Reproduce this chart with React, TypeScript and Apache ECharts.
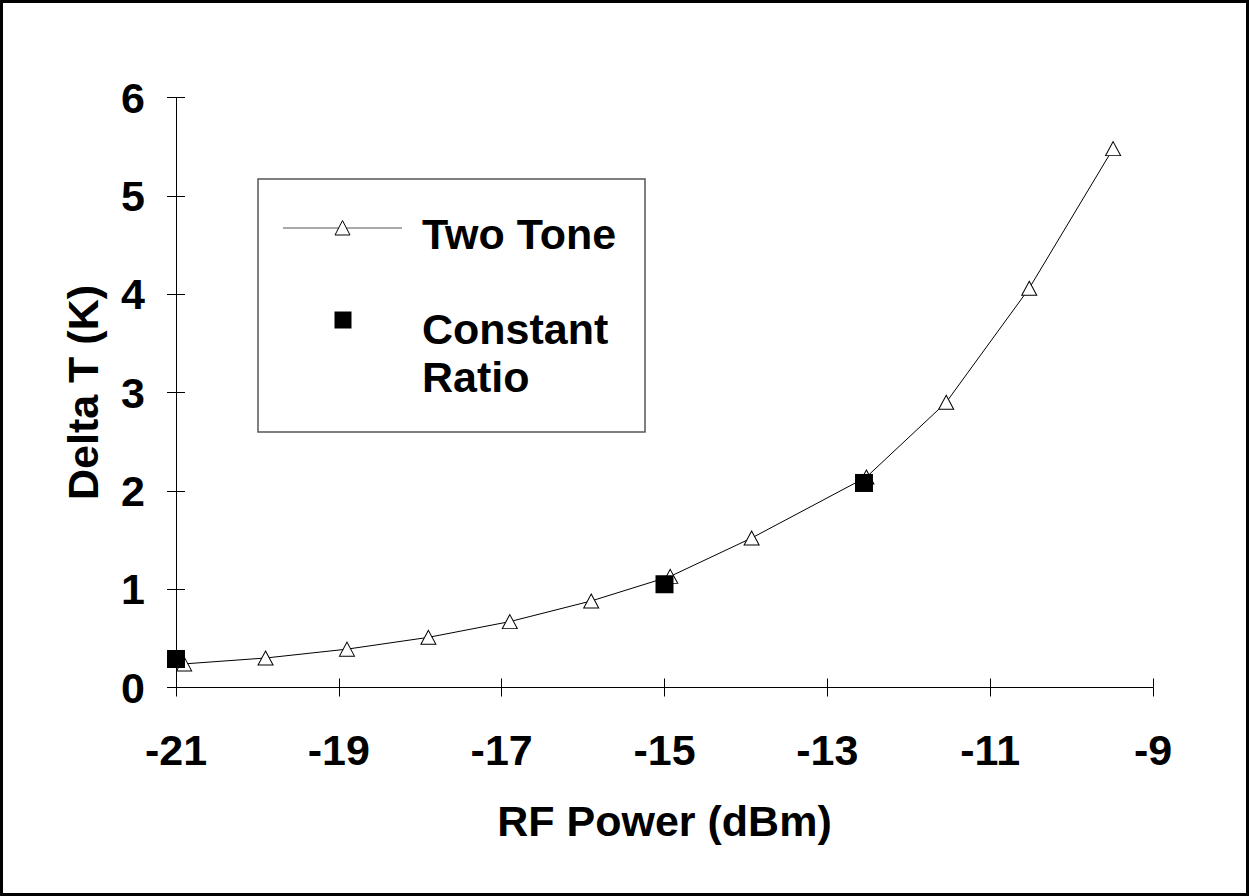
import React, { useEffect, useRef } from "react";
import * as echarts from "echarts";

// ---- data ----
const xTickValues = [-21, -19, -17, -15, -13, -11, -9];
const yTickValues = [0, 1, 2, 3, 4, 5, 6];

const twoToneX = [-20.9, -19.9, -18.9, -17.9, -16.9, -15.9, -14.93, -13.93, -12.52, -11.54, -10.52, -9.49];
const twoToneY = [0.24, 0.3, 0.39, 0.51, 0.67, 0.88, 1.13, 1.52, 2.14, 2.9, 4.06, 5.48];

const constRatioX = [-21.0, -15.0, -12.55];
const constRatioY = [0.29, 1.05, 2.08];

const seriesNames = ["Two Tone", "Constant Ratio"];
const legendLabels = ["Two Tone", "Constant\nRatio"];
const xAxisTitle = "RF Power (dBm)";
const yAxisTitle = "Delta T (K)";

const FONT = '"Liberation Sans", Arial, Helvetica, sans-serif';
const FS = 43;

export default function App() {
  const ref = useRef<HTMLDivElement>(null);

  useEffect(() => {
    document.body.style.margin = "0";
    document.body.style.overflow = "hidden";
    const chart = echarts.init(ref.current!, null, { renderer: "svg" });

    const textStyle = { fontFamily: FONT, fontWeight: "bold" as const, fontSize: FS, color: "#000" };

    const xBase = {
      type: "value" as const,
      min: -21,
      max: -9,
      interval: 2,
      position: "bottom" as const,
      splitLine: { show: false },
    };
    const yBase = {
      type: "value" as const,
      min: 0,
      max: 6,
      interval: 1,
      position: "left" as const,
      splitLine: { show: false },
    };

    const option: any = {
      animation: false,
      backgroundColor: "#fff",
      grid: { left: 176, top: 97.5, width: 977, height: 590, containLabel: false },
      xAxis: [
        {
          ...xBase,
          axisLine: { show: true, onZero: false, lineStyle: { color: "#000", width: 1 } },
          axisTick: { show: true, inside: false, length: 9, lineStyle: { color: "#000", width: 1 }, customValues: xTickValues },
          axisLabel: { ...textStyle, margin: 41, customValues: xTickValues },
          name: xAxisTitle,
          nameLocation: "middle",
          nameGap: 112,
          nameTextStyle: { ...textStyle },
        },
        {
          ...xBase,
          axisLine: { show: false, onZero: false },
          axisTick: { show: true, inside: true, length: 9, lineStyle: { color: "#000", width: 1 }, customValues: xTickValues },
          axisLabel: { show: false },
        },
      ],
      yAxis: [
        {
          ...yBase,
          axisLine: { show: true, onZero: false, lineStyle: { color: "#000", width: 1 } },
          axisTick: { show: true, inside: false, length: 9, lineStyle: { color: "#000", width: 1 }, customValues: yTickValues },
          axisLabel: { ...textStyle, margin: 31, customValues: yTickValues },
          name: yAxisTitle,
          nameLocation: "middle",
          nameRotate: 90,
          nameGap: 72,
          nameTextStyle: { ...textStyle },
        },
        {
          ...yBase,
          axisLine: { show: false, onZero: false },
          axisTick: { show: true, inside: true, length: 9, lineStyle: { color: "#000", width: 1 }, customValues: yTickValues },
          axisLabel: { show: false },
        },
      ],
      series: [
        {
          name: seriesNames[0],
          type: "line",
          xAxisIndex: 0,
          yAxisIndex: 0,
          data: twoToneX.map((x, i) => [x, twoToneY[i]]),
          symbol: "triangle",
          symbolSize: [15, 14],
          showAllSymbol: true,
          clip: false,
          lineStyle: { color: "#000", width: 1 },
          itemStyle: { color: "#fff", borderColor: "#000", borderWidth: 1, opacity: 1 },
          z: 2,
        },
        {
          name: seriesNames[1],
          type: "scatter",
          xAxisIndex: 0,
          yAxisIndex: 0,
          data: constRatioX.map((x, i) => [x, constRatioY[i]]),
          symbol: "rect",
          symbolSize: 18,
          clip: false,
          itemStyle: { color: "#000", opacity: 1 },
          z: 3,
        },
      ],
      graphic: [
        {
          type: "rect",
          silent: true,
          z: 100,
          shape: { x: 1.5, y: 1.5, width: 1246, height: 893 },
          style: { fill: "none", stroke: "#000", lineWidth: 3 },
        },
        {
          type: "group",
          z: 50,
          children: [
            {
              type: "rect",
              shape: { x: 258, y: 179, width: 387, height: 253 },
              style: { fill: "#fff", stroke: "#555", lineWidth: 1.5 },
            },
            {
              type: "line",
              shape: { x1: 283, y1: 228, x2: 402, y2: 228 },
              style: { stroke: "#555", lineWidth: 1 },
            },
            {
              type: "polygon",
              shape: { points: [[342.5, 220.5], [350, 235], [335, 235]] },
              style: { fill: "#fff", stroke: "#000", lineWidth: 1 },
            },
            {
              type: "rect",
              shape: { x: 334.5, y: 311.5, width: 17, height: 17 },
              style: { fill: "#000" },
            },
            {
              type: "text",
              x: 422,
              y: 233.5,
              style: {
                text: legendLabels[0],
                font: `bold ${FS}px ${FONT}`,
                fill: "#000",
                align: "left",
                verticalAlign: "middle",
              },
            },
            {
              type: "text",
              x: 422,
              y: 353,
              style: {
                text: legendLabels[1],
                font: `bold ${FS}px ${FONT}`,
                lineHeight: 48,
                fill: "#000",
                align: "left",
                verticalAlign: "middle",
              },
            },
          ],
        },
      ],
    };

    chart.setOption(option);
    return () => chart.dispose();
  }, []);

  return <div ref={ref} style={{ width: 1249, height: 896 }} />;
}
